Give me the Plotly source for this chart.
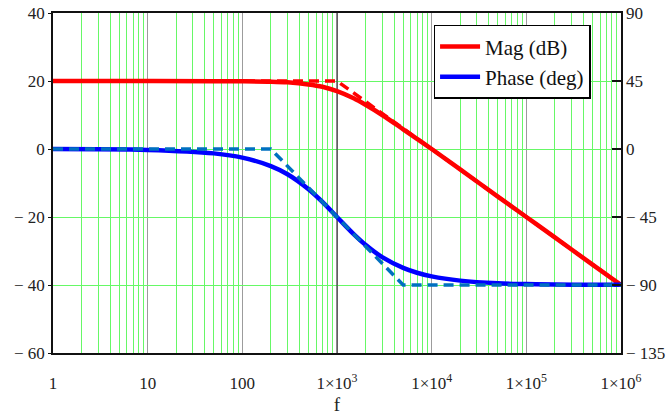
import plotly.graph_objects as go

# ---- data ----
freq = [1, 10, 50, 100, 200, 300, 500, 700, 1000, 1500, 2000, 3000, 5000, 7000,
        1e4, 2e4, 5e4, 1e5, 2e5, 5e5, 1e6]
mag_db = [20, 20, 19.9, 19.9, 19.8, 19.6, 19.0, 18.3, 17.0, 14.9, 13.0, 10.0, 5.8, 3.0,
          0.0, -6.0, -14.0, -20.0, -26.0, -34.0, -40.0]
phase_deg = [0, -0.6, -2.9, -5.7, -11.3, -16.7, -26.6, -35.0, -45.0, -56.3, -63.4, -71.6,
             -78.7, -81.9, -84.3, -87.1, -88.9, -89.4, -89.7, -89.9, -89.9]

mag_asym_f = [1, 1000, 1e6]
mag_asym_db = [20, 20, -40]
ph_asym_f = [1, 200, 5000, 1e6]
ph_asym_deg = [0, 0, -90, -90]

x_tickvals = [1, 10, 100, 1e3, 1e4, 1e5, 1e6]
x_ticktext = ["1", "10", "100", "1×10<sup>3</sup>", "1×10<sup>4</sup>",
              "1×10<sup>5</sup>", "1×10<sup>6</sup>"]
y_tickvals = [40, 20, 0, -20, -40, -60]
y_ticktext = ["40", "20", "0", "− 20", "− 40", "− 60"]
y2_tickvals = [90, 45, 0, -45, -90, -135]
y2_ticktext = ["90", "45", "0", "− 45", "− 90", "− 135"]

minor_vals = [m * 10 ** d for d in range(6) for m in range(2, 10)]

FONT = "Liberation Serif"
GREEN = "#66F866"
GRAY = "#9C9C9C"

fig = go.Figure()

# darker reference line at 1e3
fig.add_trace(go.Scatter(x=[1e3, 1e3], y=[-60, 40], mode="lines",
                         line=dict(color="#3a3a3a", width=1.2),
                         showlegend=False, hoverinfo="skip"))

fig.add_trace(go.Scatter(x=freq, y=mag_db, mode="lines", name="Mag (dB)",
                         line=dict(color="#FF0000", width=4.5, shape="spline")))
fig.add_trace(go.Scatter(x=mag_asym_f, y=mag_asym_db, mode="lines", showlegend=False,
                         line=dict(color="#FF0000", width=3.5, dash="10px,6px")))
fig.add_trace(go.Scatter(x=freq, y=phase_deg, mode="lines", name="Phase (deg)",
                         yaxis="y2",
                         line=dict(color="#0000FF", width=4.5, shape="spline")))
fig.add_trace(go.Scatter(x=ph_asym_f, y=ph_asym_deg, mode="lines", showlegend=False,
                         yaxis="y2",
                         line=dict(color="#0070C0", width=3.5, dash="10px,6px")))

fig.update_layout(
    width=668, height=419,
    margin=dict(l=53, r=47, t=13, b=66, autoexpand=False),
    paper_bgcolor="white", plot_bgcolor="white",
    font=dict(family=FONT, size=17, color="#222"),
    showlegend=True,
    legend=dict(x=0.67, y=0.965, xanchor="left", yanchor="top",
                bgcolor="white", bordercolor="black", borderwidth=1.5,
                font=dict(family=FONT, size=21, color="#111"),
                tracegroupgap=0, itemwidth=40),
    xaxis=dict(type="log", range=[0, 6], tickvals=x_tickvals, ticktext=x_ticktext,
               automargin=False,
               showgrid=True, gridcolor=GRAY, gridwidth=1.3,
               minor=dict(tickvals=minor_vals, showgrid=True, gridcolor=GREEN,
                          gridwidth=1.3, ticks=""),
               ticks="", ticklabelstandoff=14,
               showline=True, linecolor="#111", linewidth=1.5, mirror=True,
               zeroline=False,
               title=dict(text="f", standoff=6, font=dict(family=FONT, size=19))),
    yaxis=dict(range=[-60, 40], tickvals=y_tickvals, ticktext=y_ticktext,
               automargin=False, ticklabeloverflow="allow",
               showgrid=True, gridcolor=GREEN, gridwidth=1.3,
               ticks="outside", ticklen=3, tickcolor="#111",
               showline=True, linecolor="#111", linewidth=1.5, mirror=True,
               zeroline=False),
    yaxis2=dict(range=[-135, 90], tickvals=y2_tickvals, ticktext=y2_ticktext,
                automargin=False, ticklabeloverflow="allow",
                overlaying="y", side="right", showgrid=False, zeroline=False,
                ticks="inside", ticklen=9, tickcolor="#111", tickwidth=1.5,
                ticklabelstandoff=4, showline=False),
)

fig.write_html("out.html", config={"displayModeBar": False},
               post_script="document.body.style.margin='0px';")
